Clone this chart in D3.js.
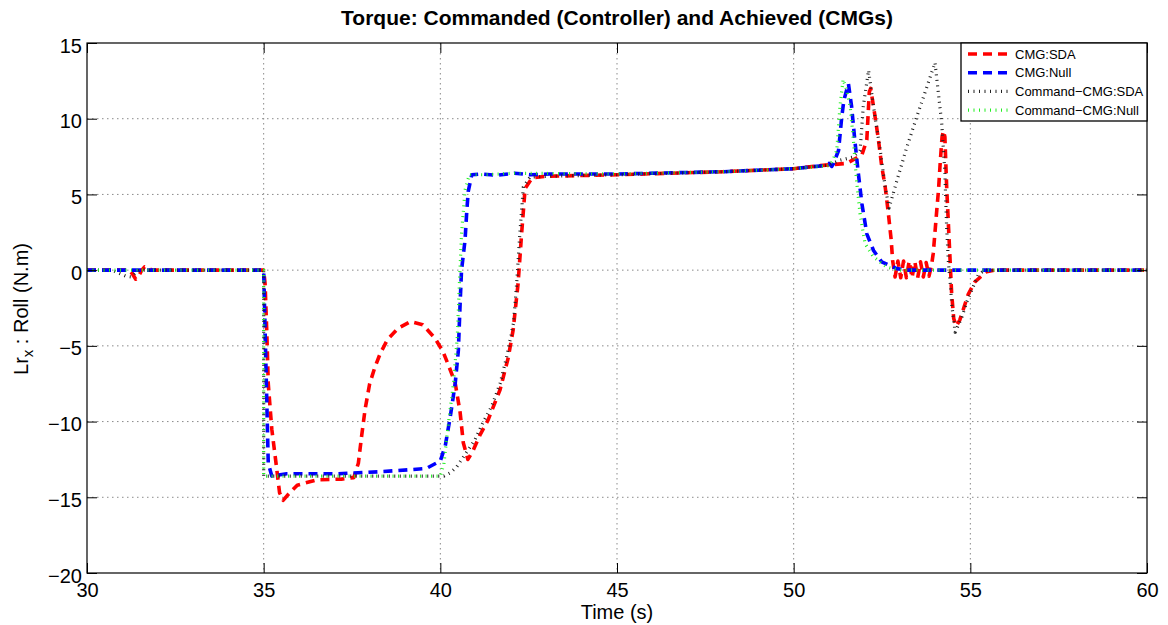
<!DOCTYPE html>
<html>
<head>
<meta charset="utf-8">
<script src="https://cdn.jsdelivr.net/npm/d3@7"></script>
<style>
  html, body { margin: 0; padding: 0; background: #fff; }
  svg { display: block; font-family: "Liberation Sans", Arial, Helvetica, sans-serif; }
</style>
</head>
<body>
<svg id="chart" width="1168" height="625"></svg>
<script>
// Roll-axis torque: CMG output vs. controller command, for the SDA and Null steering laws
const xTicks = [30, 35, 40, 45, 50, 55, 60];
const yTicks = [-20, -15, -10, -5, 0, 5, 10, 15];

// CMG:SDA (achieved)
const sdaTime = [30, 31.2, 31.3, 31.38, 31.45, 31.55, 31.63, 31.75, 31.85, 35.0, 35.04, 35.09, 35.13, 35.23, 35.35, 35.45, 35.55,
  35.7, 35.95, 36.5, 37.2, 37.55, 37.68, 37.77, 37.87, 38.0, 38.15, 38.3, 38.5, 38.8, 39.15, 39.5, 39.85, 40.08, 40.25,
  40.42, 40.56, 40.65, 40.78, 40.93, 41.12, 41.35, 41.69, 41.92, 42.06, 42.2, 42.3, 42.4, 42.6, 43, 45, 48, 50, 50.75,
  51.5, 51.93, 52.07, 52.14, 52.18, 52.3, 52.4, 52.49, 52.59, 52.68, 52.76, 52.8, 52.87, 52.95, 53.03, 53.11, 53.19,
  53.27, 53.35, 53.43, 53.51, 53.59, 53.67, 53.75, 53.83, 53.9, 53.95, 54.05, 54.1, 54.15, 54.2, 54.24, 54.28, 54.33,
  54.4, 54.47, 54.53, 54.6, 54.7, 54.8, 54.94, 55.13, 55.46, 55.7, 60];
const sdaTorque = [0, 0, -0.3, -0.6, -0.45, 0, 0.22, 0.1, 0, 0, -0.9, -4.2, -7.5, -10.5, -12.75, -14.7, -15.2,
  -14.8, -14.2, -13.85, -13.8, -13.7, -12.75, -11.0, -9.2, -7.5, -6.4, -5.5, -4.6, -3.85, -3.4, -3.6, -4.5, -5.4, -6.4,
  -7.45, -9.4, -11.4, -12.5, -11.9, -10.9, -9.9, -7.9, -5.8, -3.96, -0.9, 2.4, 5.4, 6.1, 6.2, 6.3, 6.5, 6.7, 6.9,
  7.05, 7.6, 8.6, 11.75, 12.0, 10.2, 8.6, 6.9, 5.5, 3.75, 2.0, 0.66, -0.45, 0.6, -0.5, 0.6, -0.5,
  0.6, -0.5, 0.55, -0.5, 0.55, -0.45, 0.5, -0.4, 0.3, 1.1, 3.95, 5.3, 7.2, 8.8, 9.2, 8.8, 5.5,
  2.0, -1.5, -3.2, -3.7, -3.3, -2.6, -1.6, -0.77, -0.1, 0, 0];

// CMG:Null (achieved)
const nullTime = [30, 35.0, 35.13, 35.23, 35.65, 37.07, 38.39, 39.6, 40.0, 40.14, 40.28, 40.42, 40.51, 40.56, 40.6, 40.7,
  40.75, 40.79, 40.89, 41.17, 41.6, 42.1, 42.54, 43.1, 45, 48, 50, 50.84, 51.0, 51.08, 51.12, 51.27, 51.36, 51.42, 51.5,
  51.55, 51.64, 51.73, 51.83, 51.93, 52.07, 52.26, 52.49, 52.92, 53.2, 60];
const nullTorque = [0, 0, -12.75, -13.6, -13.45, -13.45, -13.3, -13.1, -12.6, -11.6, -9.7, -7.5, -5.3, -2.2, 0, 2.0,
  3.95, 5.2, 6.3, 6.35, 6.26, 6.4, 6.3, 6.35, 6.35, 6.5, 6.7, 6.9, 7.05, 6.85, 7.0, 7.9, 10.1, 11.2, 11.9,
  12.3, 10.8, 8.6, 6.4, 4.4, 2.4, 1.3, 0.55, 0.1, 0, 0];

// Command-CMG:SDA (controller command)
const cmdSdaTime = [30, 30.7, 30.9, 31.1, 31.25, 31.4, 31.5, 35.0, 35.0, 40.1, 40.27, 40.46, 40.75, 40.98, 41.2, 41.45,
  41.69, 41.88, 42.07, 42.16, 42.25, 42.35, 42.54, 43, 45, 48, 50, 51.0, 51.3, 51.68, 51.88, 51.97, 52.12, 52.26, 52.45,
  52.59, 52.7, 52.92, 53.2, 53.48, 53.77, 54.0, 54.1, 54.19, 54.28, 54.33, 54.38, 54.43, 54.48, 54.57, 54.76, 54.9,
  55.08, 55.22, 55.4, 60];
const cmdSdaTorque = [0, 0, -0.2, -0.4, -0.45, -0.1, 0, 0, -13.6, -13.6, -13.4, -13.0, -12.0, -11.2, -10.1, -9.0,
  -7.5, -5.7, -3.5, -0.9, 2.4, 5.5, 6.15, 6.2, 6.3, 6.5, 6.7, 6.95, 7.25, 7.47, 7.9, 10.8, 13.2, 10.8, 7.9,
  5.5, 4.1, 5.9, 8.1, 10.1, 12.1, 13.7, 11.6, 9.7, 6.4, 2.8, 0.5, -0.8, -2.4, -4.1, -3.1, -2.1,
  -1.1, -0.33, 0, 0];

// Command-CMG:Null (controller command)
const cmdNullTime = [30, 35.0, 35.0, 40.0, 40.1, 40.23, 40.37, 40.48, 40.54, 40.6, 40.7, 40.82, 41.2, 42.1, 45, 48, 50,
  51.0, 51.1, 51.22, 51.31, 51.4, 51.5, 51.6, 51.69, 51.78, 51.88, 52.02, 52.25, 52.63, 53.0, 60];
const cmdNullTorque = [0, 0, -13.6, -13.6, -12.8, -10.1, -7.5, -4.4, -0.9, 2.4, 5.3, 6.3, 6.3, 6.4, 6.35, 6.5, 6.7,
  6.9, 7.2, 7.9, 10.8, 12.6, 11.9, 10.8, 8.6, 5.9, 3.7, 1.75, 0.9, 0.2, 0, 0];

const seriesNames = ["CMG:SDA", "CMG:Null", "Command\u2212CMG:SDA", "Command\u2212CMG:Null"];

const series = [
  { name: seriesNames[0], t: sdaTime, v: sdaTorque, color: "#ff0000", width: 3.6, dash: "9,6" },
  { name: seriesNames[1], t: nullTime, v: nullTorque, color: "#0000ff", width: 3.6, dash: "9,6" },
  { name: seriesNames[2], t: cmdSdaTime, v: cmdSdaTorque, color: "#222222", width: 3.2, dash: "1,4.5" },
  { name: seriesNames[3], t: cmdNullTime, v: cmdNullTorque, color: "#22ee22", width: 3.2, dash: "1,4.5" }
];

const svg = d3.select("#chart");
const margin = { left: 87, top: 43, right: 21, bottom: 52 };
const W = 1168 - margin.left - margin.right;
const H = 625 - margin.top - margin.bottom;

const x = d3.scaleLinear().domain([30, 60]).range([0, W]);
const y = d3.scaleLinear().domain([-20, 15]).range([H, 0]);

const g = svg.append("g").attr("transform", `translate(${margin.left},${margin.top})`);

g.append("defs").append("clipPath").attr("id", "plot-clip")
  .append("rect").attr("width", W).attr("height", H);

// dotted grid
g.append("g").selectAll("line.gx").data(xTicks.slice(1, -1)).join("line")
  .attr("x1", d => x(d)).attr("x2", d => x(d)).attr("y1", 0).attr("y2", H)
  .attr("stroke", "#8a8a8a").attr("stroke-width", 1).attr("stroke-dasharray", "1.5,3.5");
g.append("g").selectAll("line.gy").data(yTicks.slice(1, -1)).join("line")
  .attr("y1", d => y(d)).attr("y2", d => y(d)).attr("x1", 0).attr("x2", W)
  .attr("stroke", "#8a8a8a").attr("stroke-width", 1).attr("stroke-dasharray", "1.5,3.5");

// data lines
const line = d3.line().x(d => x(d[0])).y(d => y(d[1]));
const lines = g.append("g").attr("clip-path", "url(#plot-clip)");
series.forEach(s => {
  const pts = s.t.map((t, i) => [t, s.v[i]]);
  lines.append("path").datum(pts)
    .attr("d", line)
    .attr("fill", "none")
    .attr("stroke", s.color)
    .attr("stroke-width", s.width)
    .attr("stroke-dasharray", s.dash)
    .attr("stroke-linejoin", "round");
});

// axes: inward ticks on all four sides
const tickLen = 10;
const fontSize = 20;
const xAxis = g.append("g").attr("transform", `translate(0,${H})`)
  .call(d3.axisBottom(x).tickValues(xTicks).tickSizeInner(-tickLen).tickSizeOuter(0).tickPadding(tickLen + 12));
const yAxis = g.append("g")
  .call(d3.axisLeft(y).tickValues(yTicks).tickSizeInner(-tickLen).tickSizeOuter(0).tickPadding(5));
const xTop = g.append("g")
  .call(d3.axisTop(x).tickValues(xTicks).tickSizeInner(-tickLen).tickSizeOuter(0).tickFormat(""));
const yRight = g.append("g").attr("transform", `translate(${W},0)`)
  .call(d3.axisRight(y).tickValues(yTicks).tickSizeInner(-tickLen).tickSizeOuter(0).tickFormat(""));

[xAxis, yAxis, xTop, yRight].forEach(a => {
  a.select(".domain").remove();
  a.selectAll("line").attr("stroke", "#000").attr("stroke-width", 1);
  a.selectAll("text").attr("font-size", fontSize).attr("fill", "#000")
    .attr("font-family", "'Liberation Sans', Arial, Helvetica, sans-serif");
});
yAxis.selectAll("text").attr("dy", "0.45em");
xAxis.selectAll("text").attr("dy", "0.1em");

// axes box
g.append("rect").attr("width", W).attr("height", H)
  .attr("fill", "none").attr("stroke", "#000").attr("stroke-width", 1.2);

// title and axis labels
svg.append("text")
  .attr("x", margin.left + W / 2).attr("y", 25)
  .attr("text-anchor", "middle").attr("font-size", 21).attr("font-weight", "bold")
  .text("Torque: Commanded (Controller) and Achieved (CMGs)");

svg.append("text")
  .attr("x", margin.left + W / 2).attr("y", 619)
  .attr("text-anchor", "middle").attr("font-size", fontSize)
  .text("Time (s)");

const yl = svg.append("text")
  .attr("transform", "translate(28,309) rotate(-90)")
  .attr("text-anchor", "middle").attr("font-size", fontSize);
yl.append("tspan").text("Lr");
yl.append("tspan").attr("font-size", 15).attr("dy", 5).text("x");
yl.append("tspan").attr("dy", -5).text(" : Roll (N.m)");

// legend
const lg = svg.append("g").attr("transform", "translate(961,43)");
lg.append("rect").attr("width", 186).attr("height", 78)
  .attr("fill", "#fff").attr("stroke", "#000").attr("stroke-width", 1.3);
series.forEach((s, i) => {
  const yy = 11 + i * 18.7;
  lg.append("line").attr("x1", 7).attr("x2", 48).attr("y1", yy).attr("y2", yy)
    .attr("stroke", s.color).attr("stroke-width", s.width).attr("stroke-dasharray", s.dash);
  lg.append("text").attr("x", 54).attr("y", yy + 4.6).attr("font-size", 13).text(s.name);
});
</script>
</body>
</html>
